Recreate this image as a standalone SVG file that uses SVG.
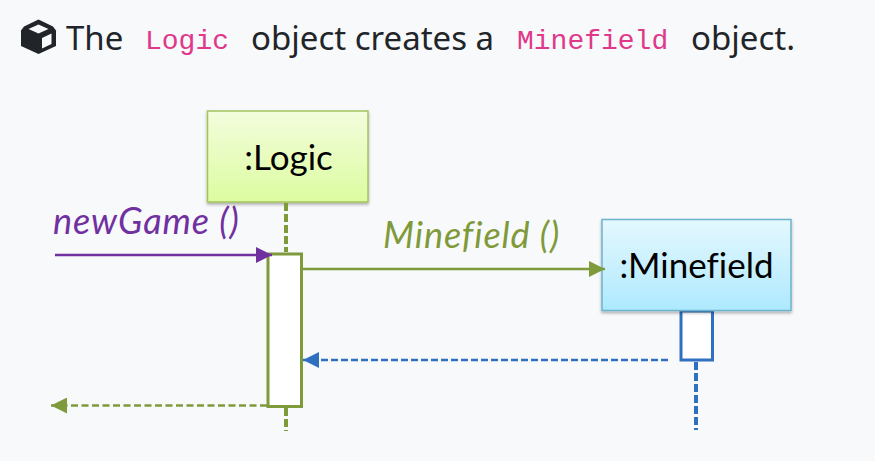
<svg xmlns="http://www.w3.org/2000/svg" width="875" height="461" viewBox="0 0 875 461">
<style>
.h{font-family:"Noto Sans","Open Sans",sans-serif;font-size:33px;fill:#212529}
.c{font-family:"Liberation Mono","DejaVu Sans Mono",monospace;font-size:28px;fill:#e0388a}
.n{font-family:Lato,"Noto Sans",sans-serif;font-size:35px;fill:#000;text-anchor:middle;font-variant-ligatures:none}
.m{font-family:Lato,"Noto Sans",sans-serif;font-size:36px;font-style:italic;letter-spacing:.9px}
.box{stroke-width:1.5;filter:url(#sh)}
.g{stroke:#7f9a3a;fill:none}
.b{stroke:#3070c0;fill:none}
</style>
<defs>
<linearGradient id="lg" x1="0" y1="0" x2="0" y2="1"><stop offset="0" stop-color="#f3fddd"/><stop offset="1" stop-color="#dcfca0"/></linearGradient>
<linearGradient id="bg" x1="0" y1="0" x2="0" y2="1"><stop offset="0" stop-color="#e4f8fe"/><stop offset="1" stop-color="#aee9fe"/></linearGradient>
<filter id="sh" x="-10%" y="-10%" width="120%" height="125%"><feDropShadow dx="0" dy="2" stdDeviation="1.5" flood-color="#000" flood-opacity="0.3"/></filter>
<marker id="ap" markerUnits="userSpaceOnUse" markerWidth="17" markerHeight="16" refX="16" refY="8" orient="auto"><path d="M0,0L16,8L0,16Z" fill="#7030a0"/></marker>
<marker id="ag" markerUnits="userSpaceOnUse" markerWidth="17" markerHeight="16" refX="16" refY="8" orient="auto"><path d="M0,0L16,8L0,16Z" fill="#7f9a3a"/></marker>
<marker id="ab" markerUnits="userSpaceOnUse" markerWidth="17" markerHeight="16" refX="16" refY="8" orient="auto"><path d="M0,0L16,8L0,16Z" fill="#3070c0"/></marker>
</defs>
<rect width="875" height="461" fill="#f8f9fb"/>
<g id="heading">
<path d="M38.500 19.500L53 26.500L56 30.500V46L38.500 54L21 46V30.500L24 26.500Z" fill="#212529"/>
<path d="M38.500 24.500L48.500 29L38.500 33.500L28.500 29Z" fill="#f8f9fb"/>
<path d="M42 38L51.500 33.500V44L42 48.500Z" fill="#f8f9fb"/>
<text class="h" x="66" y="50">The</text>
<text class="c" x="145" y="49">Logic</text>
<text class="h" x="251" y="50">object creates a</text>
<text class="c" x="517" y="49">Minefield</text>
<text class="h" x="691" y="50">object.</text>
</g>
<g id="logic">
<rect class="box" x="207.500" y="111" width="160.500" height="91" fill="url(#lg)" stroke="#a3c35c"/>
<text class="n" x="288.500" y="170">:Logic</text>
</g>
<g id="logic-activation">
<rect x="268" y="254" width="33.500" height="152.500" fill="#fff" stroke="#7f9a3a" stroke-width="3"/>
</g>
<g id="minefield">
<rect x="681" y="311" width="31.500" height="49" fill="#fff" stroke="#3070c0" stroke-width="3"/>
<rect class="box" x="602" y="219.500" width="189" height="91" fill="url(#bg)" stroke="#6cb4cc"/>
<text class="n" x="696.500" y="278">:Minefield</text>
</g>
<g id="connectors">
<path class="g" d="M286 203V252M286 408V431" stroke-width="4" stroke-dasharray="8 3"/>
<path class="b" d="M696 362V430" stroke-width="4" stroke-dasharray="8 3"/>
<path d="M55 255H272" stroke="#7030a0" stroke-width="2.500" fill="none" marker-end="url(#ap)"/>
<path class="g" d="M303 269H605" stroke-width="2.500" marker-end="url(#ag)"/>
<path class="b" d="M668 360H303" stroke-width="2.500" stroke-dasharray="7 3" marker-end="url(#ab)"/>
<path class="g" d="M267 405.500H51" stroke-width="2.500" stroke-dasharray="7 3.500" marker-end="url(#ag)"/>
</g>
<g id="labels">
<text class="m" x="53" y="234" fill="#7030a0">newGame ()</text>
<text class="m" x="383" y="248" fill="#7f9a3a">Minefield ()</text>
</g>
</svg>
